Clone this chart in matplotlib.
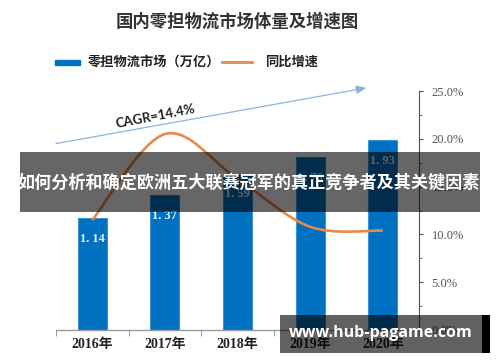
import matplotlib
matplotlib.use("Agg")
import matplotlib.pyplot as plt
import numpy as np
from matplotlib.path import Path
from matplotlib.patches import PathPatch, Rectangle
from matplotlib.ticker import FuncFormatter, MultipleLocator

plt.rcParams['font.family'] = ['Noto Sans CJK SC', 'DejaVu Sans']

# ---- data ----
years = ["2016年", "2017年", "2018年", "2019年", "2020年"]
market = [1.14, 1.37, 1.59, 1.76, 1.93]
market_labels = ["1. 14", "1. 37", "1. 59", "1. 76", "1. 93"]
growth = [11.5, 20.5, 15.8, 10.8, 10.4]

title = "国内零担物流市场体量及增速图"
legend_bar = "零担物流市场（万亿）"
legend_line = "同比增速"
cagr_text = "CAGR=14.4%"
banner_text = "如何分析和确定欧洲五大联赛冠军的真正竞争者及其关键因素"
watermark_text = "www.hub-pagame.com"

BLUE = "#0070C0"
ORANGE = "#E6894A"

fig = plt.figure(figsize=(5.0, 3.62), dpi=100)
W, H = 500, 362
x0, x1, yb, yt = 56, 419, 330, 91
ax = fig.add_axes([x0 / W, 1 - yb / H, (x1 - x0) / W, (yb - yt) / H])
ax2 = ax.twinx()

xs = np.arange(len(years))
ax.bar(xs, market, width=0.4, color=BLUE, edgecolor="#3E92D8", linewidth=0.8, zorder=2)
ax.set_xlim(-0.5, len(years) - 0.5)
ax.set_ylim(0, 2.43)
for x, v, t in zip(xs, market, market_labels):
    ax.annotate(t, (x, v), xytext=(0, -15), textcoords="offset points",
                ha="center", va="center", fontsize=9, color="#E8F4FF",
                family=["Liberation Serif", "DejaVu Serif"], fontweight="bold", zorder=3)

ax.set_xticks(xs)
ax.set_xticklabels(years, family=["Liberation Serif", "Noto Sans CJK SC"],
                   fontsize=10, fontweight="bold", color="#222222")
ax.xaxis.set_minor_locator(MultipleLocator(1, offset=0.5))
ax.tick_params(axis="x", which="major", length=0, pad=6)
ax.tick_params(axis="x", which="minor", length=4, color="#888888", direction="out")
ax.set_yticks([])
for s in ["left", "top", "right"]:
    ax.spines[s].set_visible(False)
ax.spines["bottom"].set_color("#999999")
ax.spines["bottom"].set_linewidth(1.0)
ax.patch.set_visible(False)

# smooth growth line (Catmull-Rom through the data points)
P = np.column_stack([xs, growth]).astype(float)
verts = [tuple(P[0])]
codes = [Path.MOVETO]
n = len(P)
for i in range(n - 1):
    p0 = P[i - 1] if i > 0 else P[i]
    p1, p2 = P[i], P[i + 1]
    p3 = P[i + 2] if i + 2 < n else P[i + 1]
    c1 = p1 + (p2 - p0) / 6.0
    c2 = p2 - (p3 - p1) / 6.0
    verts += [tuple(c1), tuple(c2), tuple(p2)]
    codes += [Path.CURVE4] * 3
ax2.add_patch(PathPatch(Path(verts, codes), facecolor="none", edgecolor=ORANGE,
                        linewidth=1.9, zorder=3))
ax2.plot(xs, growth, alpha=0)
ax2.set_ylim(0, 25)
ax2.yaxis.set_major_locator(MultipleLocator(5))
ax2.yaxis.set_minor_locator(MultipleLocator(2.5))
ax2.yaxis.set_major_formatter(FuncFormatter(lambda v, p: f"{v:.1f}%"))
ax2.tick_params(axis="y", which="major", length=3, color="#555555", pad=6,
                labelsize=9, labelcolor="#555555")
ax2.tick_params(axis="y", which="minor", length=2, color="#555555")
for lab in ax2.get_yticklabels():
    lab.set_family(["Liberation Serif", "DejaVu Serif"])
for s in ["left", "top", "bottom"]:
    ax2.spines[s].set_visible(False)
ax2.spines["right"].set_color("#555555")

# CAGR arrow + label
ax.annotate("", xy=(0.855, 1.013), xytext=(0.0, 0.78), xycoords="axes fraction",
            textcoords="axes fraction", annotation_clip=False,
            arrowprops=dict(arrowstyle="-|>,head_length=0.6,head_width=0.25",
                            color="#8DB3DA", lw=0.9, shrinkA=0, shrinkB=0), zorder=4)
ax.text(0.273, 0.895, cagr_text, transform=ax.transAxes, rotation=11,
        ha="center", va="center", fontsize=9.5, fontweight="bold",
        family=["Lato", "DejaVu Sans"], color="#222222", zorder=4)

# overlay for title, legend, banner, watermark (pixel coordinates)
ov = fig.add_axes([0, 0, 1, 1], zorder=10)
ov.set_xlim(0, W)
ov.set_ylim(H, 0)
ov.axis("off")
ov.text(237, 22, title, ha="center", va="center", fontsize=12.5,
        color="#333333", fontweight="bold")
ov.add_patch(Rectangle((55, 59.5), 25, 5, color=BLUE))
ov.text(88, 62, legend_bar, ha="left", va="center", fontsize=9.5, color="#222222",
        fontweight="bold")
ov.plot([222, 252], [62, 62], color=ORANGE, lw=2)
ov.text(265, 62, legend_line, ha="left", va="center", fontsize=9.5, color="#222222",
        fontweight="bold")

ov.add_patch(Rectangle((20, 152), 460, 60, facecolor="black", alpha=0.6, edgecolor="none"))
ov.text(249, 183, banner_text, ha="center", va="center", fontsize=12.3,
        color="white", fontweight="bold")

ov.add_patch(Rectangle((280, 315), 202, 38, facecolor="black", alpha=0.62, edgecolor="none"))
ov.add_patch(Rectangle((482, 315), 8, 38, facecolor="black", edgecolor="none"))
ov.text(381, 333, watermark_text, ha="center", va="center", fontsize=11.5,
        color="white", fontweight="bold", family=["Open Sans", "DejaVu Sans"])

fig.savefig("out.png", dpi=100)
